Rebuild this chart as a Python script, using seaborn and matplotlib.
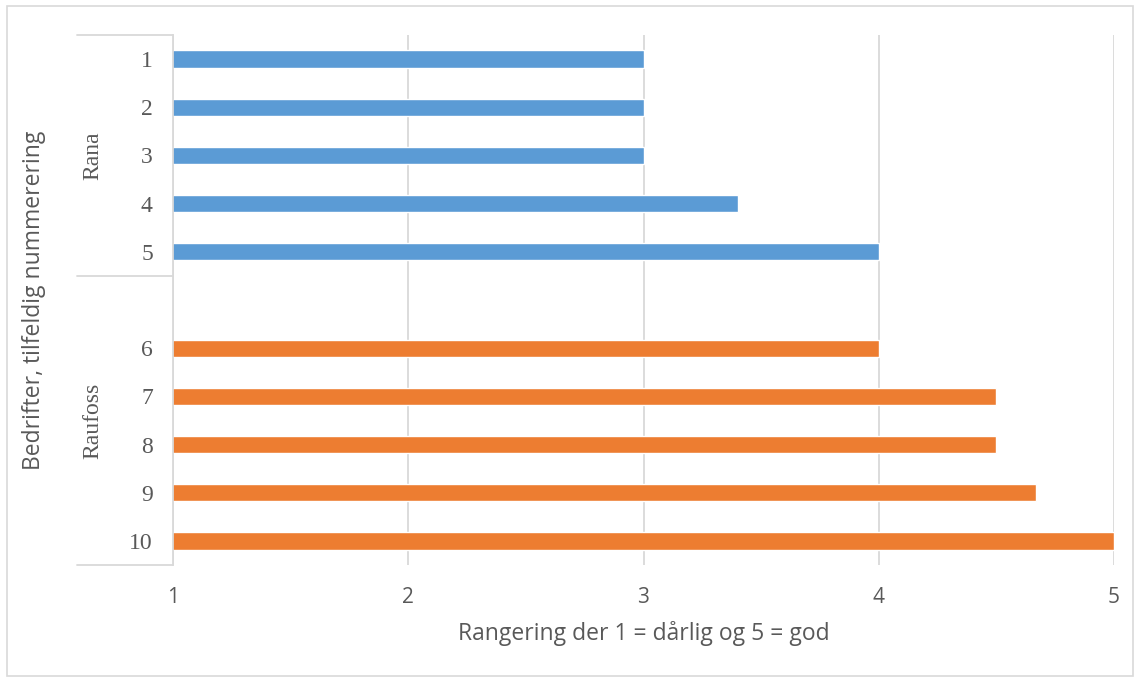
import matplotlib
matplotlib.use("Agg")
import matplotlib.pyplot as plt
import matplotlib.patches as mpatches
import seaborn as sns
import pandas as pd

# Data
companies = ["1", "2", "3", "4", "5", "6", "7", "8", "9", "10"]
groups = ["Rana"] * 5 + ["Raufoss"] * 5
scores = [3.0, 3.0, 3.0, 3.4, 4.0, 4.0, 4.5, 4.5, 4.67, 5.0]
group_names = ["Rana", "Raufoss"]
x_ticks = [1, 2, 3, 4, 5]
x_label = "Rangering der 1 = dårlig og 5 = god"
y_label = "Bedrifter, tilfeldig nummerering"

GAP = " "
order = companies[:5] + [GAP] + companies[5:]

df = pd.DataFrame({"company": companies, "group": groups, "score": scores})

sns.set_theme(style="white")
plt.rcParams["font.family"] = ["Open Sans", "DejaVu Sans"]

TXT = "#595959"
GRID = "#D9D9D9"

fig = plt.figure(figsize=(11.39, 6.82), dpi=100)
ax = fig.add_axes([173 / 1139, 1 - 565 / 682, (1114 - 173) / 1139, (565 - 35) / 682])

sns.barplot(data=df, y="company", x="score", hue="group", order=order,
            hue_order=group_names, palette=["#5B9BD5", "#ED7D31"],
            dodge=False, width=0.36, orient="h", legend=False, ax=ax,
            saturation=1)

ax.set_xlim(1, 5)
ax.set_xticks(x_ticks)
ax.set_xticklabels([str(t) for t in x_ticks], fontsize=15, color=TXT)
ax.set_ylim(len(order) - 0.5, -0.5)
ax.set_yticks(range(len(order)))
ax.set_yticklabels(order, fontsize=17, color=TXT, family=["Liberation Serif"])
ax.tick_params(axis="x", length=0, pad=16)
ax.tick_params(axis="y", length=0, pad=14.5)
ax.grid(axis="x", color=GRID, linewidth=1.3)
ax.set_axisbelow(True)
for s in ["top", "right", "bottom"]:
    ax.spines[s].set_visible(False)
ax.spines["left"].set_color(GRID)
ax.spines["left"].set_linewidth(1.3)

ax.set_xlabel(x_label, fontsize=16.5, color=TXT, labelpad=9)
ax.set_ylabel("")
fig.text(34 / 1139, 1 - 300 / 682, y_label, rotation=90, fontsize=16.5,
         color=TXT, ha="center", va="center")

# Category group brackets on the left
trans = ax.get_yaxis_transform()
xl = (77 - 173) / (1114 - 173)
for yv in [-0.5, 4.5, len(order) - 0.5]:
    ax.plot([xl, 0], [yv, yv], color=GRID, lw=1.3, transform=trans, clip_on=False)
gx = (93 - 173) / (1114 - 173)
ax.text(gx, 2, group_names[0], rotation=90, transform=trans, ha="center",
        va="center", fontsize=17, color=TXT, family=["Liberation Serif"])
ax.text(gx, 7.5, group_names[1], rotation=90, transform=trans, ha="center",
        va="center", fontsize=17, color=TXT, family=["Liberation Serif"])

# Outer chart border
fig.patches.append(mpatches.Rectangle((7 / 1139, 6 / 682), (1133 - 7) / 1139,
                                      (676 - 6) / 682, transform=fig.transFigure,
                                      fill=False, edgecolor=GRID, linewidth=1.2))

fig.savefig("out.png", dpi=100)
